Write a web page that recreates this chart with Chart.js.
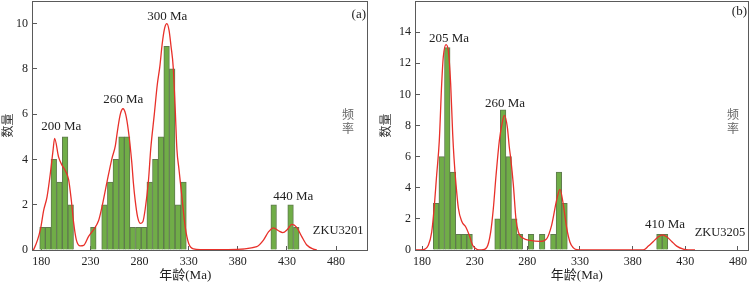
<!DOCTYPE html>
<html>
<head>
<meta charset="utf-8">
<script src="https://cdn.jsdelivr.net/npm/chart.js@4.4.0/dist/chart.umd.min.js"></script>
<style>
  html, body { margin: 0; padding: 0; background: #fff; }
  #wrap { position: relative; width: 750px; height: 286px; }
  canvas { position: absolute; top: 0; }
  #chartA { left: 0; }
  #chartB { left: 375px; }
</style>
</head>
<body>
<div id="wrap">
  <canvas id="chartA" width="375" height="286"></canvas>
  <canvas id="chartB" width="375" height="286"></canvas>
</div>
<script>
// ---- panel (a) ZKU3201 ----
const agesA = [181.2, 186.9, 192.7, 198.4, 204.2, 209.9, 232.9, 244.3, 250.1, 255.8, 261.6, 267.3,
  273.0, 278.8, 284.5, 290.3, 296.0, 301.7, 307.5, 313.2, 319.0, 324.7, 416.5, 433.7, 439.5];
const countsA = [1, 1, 4, 3, 5, 2, 1, 2, 3, 4, 5, 5, 1, 1, 1, 3, 4, 5, 9, 8, 2, 3, 2, 2, 1];
const kdeAgeA = [171.5, 172.5, 179.0, 182.4, 185.8, 189.2, 191.9, 193.5, 197.6, 201.0, 204.4, 207.8,
  210.5, 212.9, 215.6, 219.7, 223.0, 228.1, 233.2, 238.3, 241.7, 246.8, 251.9, 255.3, 257.6, 260.4,
  263.1, 265.8, 268.5, 272.1, 273.7, 275.5, 277.9, 280.7, 283.3, 285.7, 289.1, 291.3, 295.0, 298.0,
  300.6, 303.0, 305.5, 307.8, 310.0, 312.0, 314.2, 316.2, 318.0, 320.0, 323.1, 326.4, 329.9, 335.0,
  341.7, 370.0, 399.3, 406.1, 411.2, 416.3, 421.4, 425.8, 430.5, 435.0, 440.0, 445.1, 450.2, 457.0, 460.4];
const kdeA = [0, 0.05, 0.9, 1.76, 2.35, 3.4, 4.4, 4.93, 4.1, 3.75, 3.5, 3.1,
  2.2, 1.2, 0.45, 0.18, 0.2, 0.6, 0.9, 1.3, 1.9, 3.0, 4.05, 4.6, 5.3, 6.0,
  6.24, 6.0, 5.3, 3.85, 2.96, 2.2, 1.47, 1.18, 1.25, 1.8, 3.1, 4.44, 6.0, 7.3,
  8.1, 9.1, 9.8, 10.0, 9.7, 9.0, 8.1, 6.3, 4.44, 3.6, 2.35, 1.03, 0.3, 0.05,
  0.02, 0.02, 0.15, 0.44, 0.8, 0.98, 0.85, 0.77, 0.91, 1.13, 1.0, 0.59, 0.22, 0.04, 0];
const xTicksA = [180, 230, 280, 330, 380, 430, 480];
const yTicksA = [0, 2, 4, 6, 8, 10];
const peaksA = ['200 Ma', '260 Ma', '300 Ma', '440 Ma', 'ZKU3201'];

// ---- panel (b) ZKU3205 ----
const agesB = [193.4, 198.7, 204.0, 209.3, 214.6, 219.9, 225.2, 251.7, 257.0, 262.3, 267.6, 272.9,
  283.5, 294.1, 304.7, 310.0, 315.3, 405.4, 410.7];
const countsB = [3, 6, 13, 5, 1, 1, 1, 2, 9, 6, 2, 1, 1, 1, 1, 5, 3, 1, 1];
const kdeAgeB = [174.3, 181.3, 186.0, 189.2, 191.4, 193.9, 196.4, 198.7, 200.2, 202.8, 205.0, 207.2,
  209.1, 210.4, 212.3, 214.5, 217.7, 221.8, 224.9, 228.1, 231.9, 236.6, 241.4, 245.2, 247.7, 250.3,
  253.5, 256.0, 258.1, 261.0, 262.9, 264.2, 266.7, 269.2, 271.5, 276.2, 282.5, 292.0, 298.3, 303.1,
  307.8, 311.0, 314.2, 317.4, 320.5, 323.5, 327.0, 340.0, 370.0, 390.1, 394.9, 399.6, 404.4, 408.2,
  412.3, 417.1, 421.8, 428.1, 433.0, 439.2];
const kdeB = [0, 0.02, 0.3, 1.15, 2.6, 4.8, 7.0, 10.7, 12.4, 13.2, 12.8, 10.7,
  7.5, 5.9, 4.2, 2.7, 1.85, 1.45, 0.95, 0.3, 0.05, 0, 0.15, 1.15, 2.65, 4.8,
  7.07, 8.1, 8.65, 7.9, 6.6, 5.9, 4.2, 2.0, 1.15, 0.75, 0.62, 0.55, 0.72, 1.6,
  3.2, 3.9, 2.9, 1.4, 0.5, 0.15, 0.03, 0.01, 0.01, 0.01, 0.25, 0.55, 0.85, 0.97,
  0.85, 0.55, 0.25, 0.06, 0.01, 0];
const xTicksB = [180, 230, 280, 330, 380, 430, 480];
const yTicksB = [0, 2, 4, 6, 8, 10, 12, 14];
const peaksB = ['205 Ma', '260 Ma', '410 Ma', 'ZKU3205'];

const serif = "'Liberation Serif', 'Noto Sans CJK SC', serif";
const axisCol = '#5a5a5a';

// texts drawn on top of the plot (peak labels placed in data units)
const decor = {
  id: 'decor',
  afterDraw(chart, args, o) {
    const { ctx, chartArea: a, scales: { x, y } } = chart;
    ctx.save();
    ctx.strokeStyle = axisCol;
    ctx.lineWidth = 1;
    ctx.strokeRect(Math.round(a.left) - 0.5, Math.round(a.top) + 0.5,
      Math.round(a.right - a.left) + 1, Math.round(a.bottom - a.top));
    ctx.fillStyle = '#222';
    ctx.textAlign = 'center';
    ctx.textBaseline = 'middle';
    o.notes.forEach(n => {
      ctx.font = n.size + 'px ' + serif;
      ctx.fillText(n.text, x.getPixelForValue(n.x), y.getPixelForValue(n.y));
    });
    ctx.font = '13px ' + serif;
    ctx.textAlign = 'right';
    ctx.fillText(o.tag, a.right - 1, a.top + o.tagY);
    ctx.textAlign = 'center';
    ctx.fillText('年龄(Ma)', x.getPixelForValue(o.xTitleAt), 276);
    ctx.fillStyle = '#666';
    ctx.font = "12px 'Noto Sans CJK SC'";
    ctx.fillText('频', a.right - o.freqDx, 114);
    ctx.fillText('率', a.right - o.freqDx, 128);
    ctx.restore();
  }
};

function makeChart(id, ages, counts, kdeAge, kde, xTicks, yTicks, xr, ymax, yWidth, titlePad, padRight, deco) {
  return new Chart(document.getElementById(id), {
    type: 'bar',
    data: {
      datasets: [
        {
          type: 'line',
          data: kdeAge.map((a, i) => ({ x: a, y: kde[i] })),
          borderColor: '#e8302a',
          borderWidth: 1.3,
          pointRadius: 0,
          tension: 0.4,
          cubicInterpolationMode: 'monotone',
          fill: false,
          order: 0
        },
        {
          data: ages.map((a, i) => ({ x: a, y: counts[i] })),
          backgroundColor: '#70ad47',
          borderColor: '#5f7a4e',
          borderWidth: 1,
          barPercentage: 1,
          categoryPercentage: 1,
          order: 1
        }
      ]
    },
    options: {
      responsive: false,
      animation: false,
      layout: { padding: { top: 1, right: padRight, left: 0, bottom: 0 } },
      plugins: { legend: { display: false }, tooltip: { enabled: false }, decor: deco },
      scales: {
        x: {
          type: 'linear',
          min: xr[0], max: xr[1],
          offset: false,
          grid: { drawOnChartArea: false, drawTicks: true, tickLength: -4, color: axisCol, offset: false },
          border: { display: false },
          ticks: { autoSkip: false, maxRotation: 0, padding: 9, color: '#222', font: { family: serif, size: 12 } },
          afterBuildTicks: s => { s.ticks = xTicks.map(v => ({ value: v })); },
          afterFit: s => { s.height = 36; s.paddingLeft = 0; s.paddingRight = 0; }
        },
        y: {
          min: 0, max: ymax,
          grid: { drawOnChartArea: false, drawTicks: true, tickLength: -4, color: axisCol },
          border: { display: false },
          ticks: { padding: 9, color: '#222', font: { family: serif, size: 12 } },
          title: { display: true, text: '数量', color: '#333', padding: { top: titlePad, bottom: 0 },
            font: { family: "'Noto Sans CJK SC'", size: 12 } },
          afterBuildTicks: s => { s.ticks = yTicks.map(v => ({ value: v })); },
          afterFit: s => { s.width = yWidth; s.paddingTop = 0; s.paddingBottom = 0; }
        }
      }
    },
    plugins: [decor]
  });
}

makeChart('chartA', agesA, countsA, kdeAgeA, kdeA, xTicksA, yTicksA, [171.5, 511.5], 11, 33, 0, 8, {
  tag: '(a)', tagY: 14, freqDx: 19, xTitleAt: 326.5,
  notes: [
    { text: peaksA[0], x: 200.3, y: 5.45, size: 13 },
    { text: peaksA[1], x: 263.4, y: 6.65, size: 13 },
    { text: peaksA[2], x: 308.2, y: 10.3, size: 13 },
    { text: peaksA[3], x: 436.4, y: 2.35, size: 13 },
    { text: peaksA[4], x: 482.1, y: 0.85, size: 12.5 }
  ]
});

makeChart('chartB', agesB, countsB, kdeAgeB, kdeB, xTicksB, yTicksB, [174.3, 489.5], 16, 41, 3, 2, {
  tag: '(b)', tagY: 11, freqDx: 15, xTitleAt: 327,
  notes: [
    { text: peaksB[0], x: 205.6, y: 13.6, size: 13 },
    { text: peaksB[1], x: 258.8, y: 9.44, size: 13 },
    { text: peaksB[2], x: 410.7, y: 1.64, size: 13 },
    { text: peaksB[3], x: 462.9, y: 1.13, size: 12.5 }
  ]
});
</script>
</body>
</html>
